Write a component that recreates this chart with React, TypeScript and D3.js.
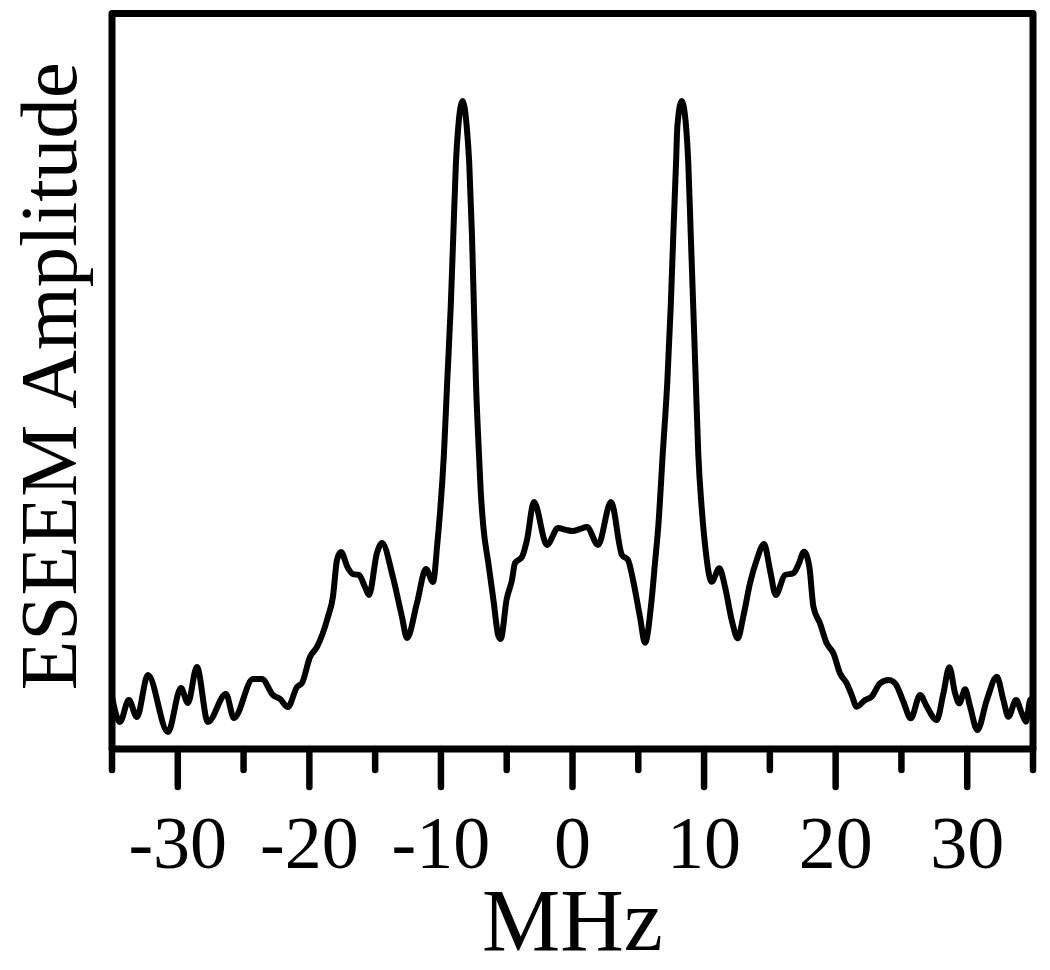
import React from 'react';
import * as d3 from 'd3';

// frequency axis (MHz) and ESEEM amplitude (arbitrary units, 0..100 = axis to top of frame)
const mhz = [
  -35.0, -34.4, -33.72, -33.11, -32.27, -30.75, -29.76, -29.23, -28.55, -27.71,
  -26.34, -25.73, -24.29, -23.6, -22.77, -22.23, -21.63, -20.94, -20.56, -19.95,
  -19.42, -18.59, -18.21, -17.9, -17.6, -17.07, -16.69, -16.23, -15.77, -15.47,
  -14.86, -14.48, -13.65, -12.96, -12.58, -11.82, -11.14, -10.6, -10.28, -9.77,
  -9.52, -9.26, -9.06, -8.86, -8.68, -8.35, -8.04, -7.85, -7.64, -7.49,
  -7.34, -7.11, -6.98, -6.78, -6.4, -6.02, -5.64, -5.46, -5.0, -4.6,
  -4.37, -3.84, -3.46, -2.93, -1.94, -1.1, -0.5, 0, 0.55, 1.1,
  1.94, 2.93, 3.76, 4.22, 4.6, 5.13, 5.51, 6.02, 6.27, 6.52,
  6.86, 7.21, 7.46, 7.66, 7.87, 7.97, 8.3, 8.63, 8.8, 8.99,
  9.18, 9.37, 9.56, 9.82, 10.07, 10.58, 11.16, 11.59, 12.1, 12.56,
  12.98, 13.49, 14.0, 14.56, 15.01, 15.45, 16.15, 16.78, 17.16, 17.6,
  18.0, 18.31, 18.81, 19.32, 19.83, 20.33, 20.84, 21.22, 21.6, 22.24,
  22.74, 23.37, 24.01, 24.52, 25.15, 25.71, 26.42, 26.93, 27.68, 28.19,
  28.64, 29.08, 29.4, 29.84, 30.22, 30.77, 31.49, 32.25, 32.75, 33.13,
  33.71, 34.15, 34.47, 34.78, 35.0,
];

const amplitude = [
  7.1, 3.67, 6.66, 4.35, 10.06, 2.31, 8.29, 6.25, 11.15, 3.67,
  7.48, 4.21, 9.52, 9.52, 7.34, 6.8, 5.71, 8.43, 8.97, 12.51,
  13.87, 17.95, 20.67, 25.7, 26.78, 24.61, 23.79, 23.66, 22.03, 20.94,
  26.65, 28.01, 23.39, 17.95, 15.09, 19.85, 24.47, 22.71, 27.8, 40.16,
  50.05, 59.93, 69.82, 79.71, 84.65, 88.12, 84.65, 79.71, 69.82, 59.93,
  50.05, 40.16, 35.21, 30.27, 25.33, 20.39, 15.43, 14.96, 20.39, 22.98,
  25.29, 26.1, 28.42, 33.58, 27.74, 30.05, 29.8, 29.64, 29.9, 30.18,
  27.74, 33.58, 26.38, 25.7, 22.98, 17.95, 14.45, 20.39, 25.33, 30.27,
  40.16, 50.05, 59.93, 69.82, 79.71, 84.65, 88.12, 84.65, 79.71, 69.82,
  59.93, 50.05, 40.16, 32.77, 27.8, 22.75, 24.57, 22.07, 17.54, 15.05,
  17.99, 22.53, 25.7, 27.87, 24.34, 20.94, 23.66, 23.89, 25.02, 26.83,
  24.79, 19.35, 17.09, 14.37, 13.01, 10.3, 8.93, 7.34, 5.75, 6.66,
  7.11, 8.93, 9.38, 8.93, 6.43, 4.17, 7.34, 5.75, 3.94, 7.57,
  11.11, 7.57, 6.21, 8.12, 5.75, 2.58, 6.66, 9.83, 6.66, 4.39,
  6.66, 4.85, 3.71, 6.66, 6.9,
];

const majorTicks = [-30, -20, -10, 0, 10, 20, 30];
const minorTicks = [-35, -25, -15, -5, 5, 15, 25, 35];

const xTitle = 'MHz';
const yTitle = 'ESEEM Amplitude';

const W = 1050;
const H = 970;
const serif = '"Liberation Serif", "Times New Roman", serif';

export default function App() {
  // scales
  const x = d3.scaleLinear().domain([-35, 35]).range([112, 1033]);
  const y = d3.scaleLinear().domain([0, 100]).range([749, 13.5]);

  const pts: [number, number][] = mhz.map((m, i) => [m, amplitude[i]]);
  const line = d3
    .line<[number, number]>()
    .x((d) => x(d[0]))
    .y((d) => y(d[1]))
    .curve(d3.curveMonotoneX);

  const [x0, x1] = x.range();
  const [y0, y1] = y.range();

  return (
    <svg
      width={W}
      height={H}
      style={{ position: 'absolute', left: 0, top: 0, background: '#fff' }}
    >
      {/* spectrum */}
      <path
        d={line(pts) || ''}
        fill="none"
        stroke="#000"
        strokeWidth={6}
        strokeLinejoin="round"
      />

      {/* frame */}
      <rect
        x={x0}
        y={y1}
        width={x1 - x0}
        height={y0 - y1}
        fill="none"
        stroke="#000"
        strokeWidth={7}
        strokeLinejoin="round"
      />

      {/* ticks */}
      {minorTicks.map((t) => (
        <line
          key={'mn' + t}
          x1={x(t)}
          x2={x(t)}
          y1={y0}
          y2={y0 + 21}
          stroke="#000"
          strokeWidth={6.5}
          strokeLinecap="round"
        />
      ))}
      {majorTicks.map((t) => (
        <g key={'mj' + t}>
          <line
            x1={x(t)}
            x2={x(t)}
            y1={y0}
            y2={y0 + 38}
            stroke="#000"
            strokeWidth={6.5}
            strokeLinecap="round"
          />
          <text
            x={x(t)}
            y={868}
            textAnchor="middle"
            fontFamily={serif}
            fontSize={74}
            fill="#000"
          >
            {t}
          </text>
        </g>
      ))}

      {/* axis titles */}
      <text
        x={(x0 + x1) / 2}
        y={950}
        textAnchor="middle"
        fontFamily={serif}
        fontSize={88}
        fill="#000"
      >
        {xTitle}
      </text>
      <text
        transform={`translate(76, ${(y0 + y1) / 2 - 5}) rotate(-90)`}
        textAnchor="middle"
        fontFamily={serif}
        fontSize={81}
        fill="#000"
      >
        {yTitle}
      </text>
    </svg>
  );
}
